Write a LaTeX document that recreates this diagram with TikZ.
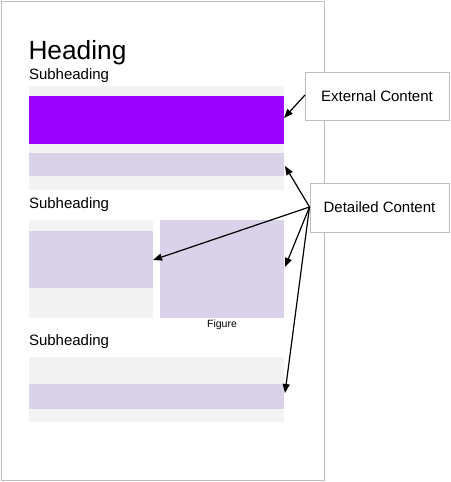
\documentclass[tikz,border=0pt]{standalone}
\usepackage{fontspec}
\setmainfont{Liberation Sans}
\usetikzlibrary{arrows.meta}
\definecolor{pagegray}{HTML}{BDBDBD}
\definecolor{blockgray}{HTML}{F3F3F3}
\definecolor{lav}{HTML}{D9D2E9}
\definecolor{vivid}{HTML}{9900FF}
\tikzset{
  blk/.style={anchor=north west, inner sep=0pt, outer sep=0pt, draw=none},
  label/.style={draw=pagegray, line width=1pt, fill=white, inner sep=0pt, font=\fontsize{15}{17}\selectfont},
  txt/.style={anchor=base west, inner sep=0pt, outer sep=0pt},
  arr/.style={line width=1.2pt, -{Triangle[length=9pt,width=7pt]}, shorten >=0pt}
}
\begin{document}
\begin{tikzpicture}[x=1pt,y=-1pt]
\useasboundingbox (0,0) rectangle (450,482);
% page
\node[blk, draw=pagegray, line width=1pt, minimum width=323pt, minimum height=479pt] (page) at (1,1) {};
% texts
\node[txt, font=\fontsize{26.3}{30}\selectfont] (h) at (28.5,59) {Heading};
\node[txt, font=\fontsize{15}{17}\selectfont] (s1) at (29,79) {Subheading};
\node[txt, font=\fontsize{15}{17}\selectfont] (s2) at (29,208) {Subheading};
\node[txt, font=\fontsize{15}{17}\selectfont] (s3) at (29,345) {Subheading};
% block 1
\node[blk, fill=blockgray, minimum width=255pt, minimum height=104pt] (b1) at (29,86) {};
\node[blk, fill=vivid, minimum width=255pt, minimum height=48pt] (ext1) at (29,96) {};
\node[blk, fill=lav, minimum width=255pt, minimum height=23pt] (l1) at (29,153) {};
% block 2
\node[blk, fill=blockgray, minimum width=124pt, minimum height=98pt] (b2) at (29,220) {};
\node[blk, fill=lav, minimum width=124pt, minimum height=57pt] (l2) at (29,231) {};
\node[blk, fill=lav, minimum width=124pt, minimum height=98pt] (fig) at (160,220) {};
\node[anchor=base, inner sep=0pt, font=\fontsize{10.5}{12}\selectfont] (figlab) at (222,327) {Figure};
% block 3
\node[blk, fill=blockgray, minimum width=255pt, minimum height=65pt] (b3) at (29,357) {};
\node[blk, fill=lav, minimum width=255pt, minimum height=25pt] (l3) at (29,384) {};
% callouts
\node[label, minimum width=144pt, minimum height=48pt] (ext) at (377,96) {External Content};
\node[label, minimum width=139pt, minimum height=49pt] (det) at (379.5,207.5) {Detailed Content};
% arrow targets
\coordinate (t0) at (284,118);
\coordinate (t1) at (285,166);
\coordinate (t2) at (153,260);
\coordinate (t3) at (285,267);
\coordinate (t4) at (285,393);
\coordinate (o0) at (305,95);
\coordinate (o1) at (309.5,207);
\draw[arr] (o0) -- (t0);
\draw[arr] (o1) -- (t1);
\draw[arr] (o1) -- (t2);
\draw[arr] (o1) -- (t3);
\draw[arr] (o1) -- (t4);
\end{tikzpicture}
\end{document}
